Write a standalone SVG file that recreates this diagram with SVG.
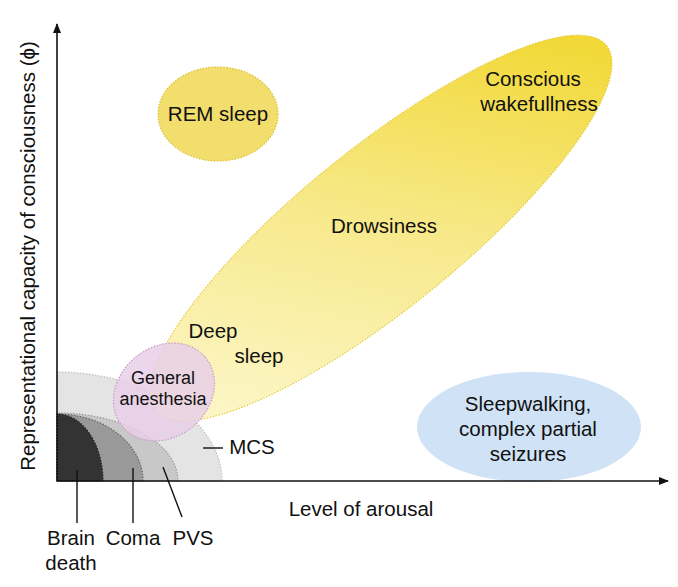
<svg xmlns="http://www.w3.org/2000/svg" width="678" height="587" viewBox="0 0 678 587">
<defs>
<linearGradient id="gy" gradientUnits="userSpaceOnUse" x1="170" y1="400" x2="600" y2="50">
<stop offset="0" stop-color="#fdf9d6"/>
<stop offset="0.5" stop-color="#f7e98a"/>
<stop offset="1" stop-color="#f0d420"/>
</linearGradient>
<marker id="arr" viewBox="0 0 10 10" refX="9" refY="5" markerWidth="10" markerHeight="10" markerUnits="userSpaceOnUse" orient="auto">
<path d="M0,1 L10,5 L0,9 Z" fill="#111"/>
</marker>
</defs>
<style>
text{font-family:"Liberation Sans",Arial,sans-serif;font-size:20.5px;fill:#111;text-anchor:middle}
.sm{font-size:18px}
.dot{stroke-width:1.2;stroke-dasharray:1.5 1.5}
.lead{stroke:#111;stroke-width:1.4;fill:none}
</style>
<rect width="678" height="587" fill="#fff"/>
<g id="mcs">
<path d="M57,481 L57,372 A166,109 0 0 1 222,481 Z" fill="#e4e4e4" stroke="#bdbdbd" class="dot"/>
</g>
<g id="pvs">
<path d="M57,481 L57,413 A121,68 0 0 1 178,481 Z" fill="#c8c8c8" stroke="#999" class="dot"/>
</g>
<g id="coma">
<path d="M57,481 L57,414 A86,67 0 0 1 143,481 Z" fill="#999" stroke="#666" class="dot"/>
</g>
<g id="brain-death">
<path d="M57,481 L57,414 A46,67 0 0 1 103,481 Z" fill="#333" stroke="#222" class="dot"/>
</g>
<g id="drowsiness">
<ellipse cx="381" cy="228" rx="290" ry="80" transform="rotate(-39 381 228)" fill="url(#gy)" stroke="#e6cc3a" class="dot"/>
</g>
<g id="anesthesia">
<ellipse cx="164" cy="392" rx="54" ry="45" transform="rotate(-40 164 392)" fill="#e8cfe7" fill-opacity="0.85" stroke="#c79cc4" class="dot"/>
<text class="sm" x="163" y="384">General</text>
<text class="sm" x="163" y="405">anesthesia</text>
</g>
<g id="rem">
<ellipse cx="218" cy="114" rx="60" ry="47" fill="#f2de6c" stroke="#dcbd2c" class="dot"/>
<text x="218" y="121">REM sleep</text>
</g>
<g id="sleepwalking">
<ellipse cx="529" cy="427" rx="112" ry="55" fill="#d0e2f5"/>
<text x="528" y="411">Sleepwalking,</text>
<text x="528" y="436">complex partial</text>
<text x="528" y="461">seizures</text>
</g>
<g id="labels">
<text x="533" y="86">Conscious</text>
<text x="539" y="111">wakefullness</text>
<text x="384" y="233">Drowsiness</text>
<text x="213" y="338">Deep</text>
<text x="259" y="363">sleep</text>
<text x="252" y="454">MCS</text>
<text x="71" y="545">Brain</text>
<text x="71" y="570">death</text>
<text x="133" y="545">Coma</text>
<text x="193" y="545">PVS</text>
<text x="361" y="516">Level of arousal</text>
<text transform="translate(35 256) rotate(-90)">Representational capacity of consciousness (ϕ)</text>
</g>
<g id="connectors">
<line x1="57" y1="481" x2="57" y2="24" stroke="#111" stroke-width="1.6" marker-end="url(#arr)"/>
<line x1="57" y1="481" x2="668" y2="481" stroke="#111" stroke-width="1.6" marker-end="url(#arr)"/>
<line class="lead" x1="77" y1="470" x2="77" y2="523"/>
<line class="lead" x1="133" y1="468" x2="133" y2="523"/>
<line class="lead" x1="163" y1="467" x2="182" y2="517"/>
<line class="lead" x1="203" y1="448" x2="223" y2="448"/>
</g>
</svg>
